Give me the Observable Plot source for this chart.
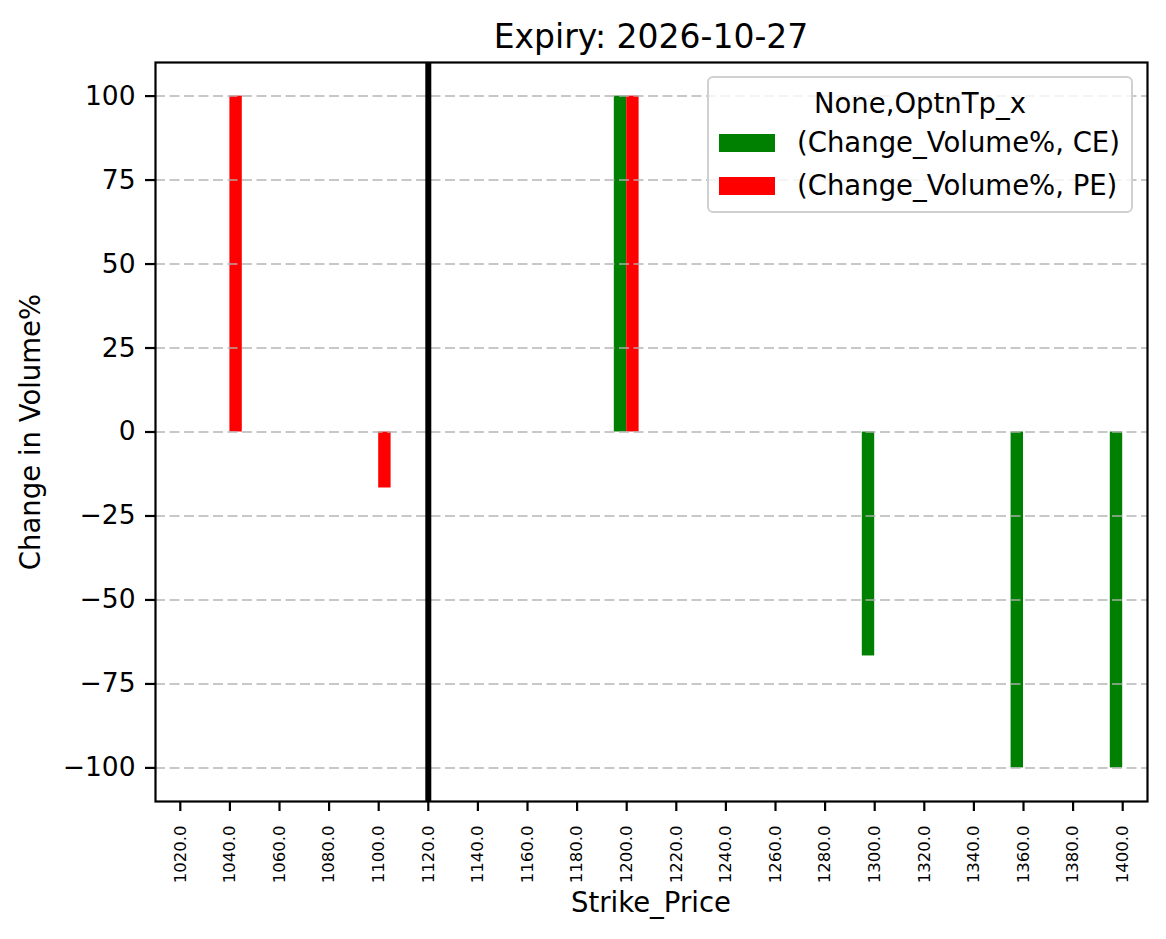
<!DOCTYPE html>
<html><head><meta charset="utf-8">
<script src="https://cdn.jsdelivr.net/npm/d3@7"></script>
<script src="https://cdn.jsdelivr.net/npm/@observablehq/plot@0.6"></script>
<style>
body{margin:0;background:#fff;font-family:"DejaVu Sans",sans-serif;color:#000;}
#wrap{position:relative;width:1166px;height:939px;}
.lbl{position:absolute;white-space:nowrap;line-height:1;}
#legend{position:absolute;left:707px;top:76px;width:422px;height:133px;border:2px solid #d0d0d0;border-radius:6px;background:rgba(255,255,255,0.8);}
.sw{position:absolute;left:10px;width:56px;height:18px;}
.lt{position:absolute;left:88px;font-size:27.5px;line-height:1;white-space:nowrap;}
</style></head><body><div id="wrap"></div>
<script>
const strikes = ["1020.0","1040.0","1060.0","1080.0","1100.0","1120.0","1140.0","1160.0","1180.0","1200.0",
                 "1220.0","1240.0","1260.0","1280.0","1300.0","1320.0","1340.0","1360.0","1380.0","1400.0"];
const ceValues = [null,null,null,null,null,null,null,null,null,100,
                  null,null,null,null,-66.67,null,null,-100,null,-100];
const peValues = [null,100,null,null,-16.67,null,null,null,null,100,
                  null,null,null,null,null,null,null,null,null,null];
const spotStrike = "1120.0";
const yTicks = [-100,-75,-50,-25,0,25,50,75,100];
const yDomain = [-110,110];
const titleText = "Expiry: 2026-10-27";
const xLabel = "Strike_Price";
const yLabel = "Change in Volume%";
const legendTitle = "None,OptnTp_x";
const seriesNames = ["(Change_Volume%, CE)","(Change_Volume%, PE)"];
const seriesColors = ["green","red"];

const ceData = strikes.map((s,i)=>({strike:s,value:ceValues[i]})).filter(d=>d.value!=null);
const peData = strikes.map((s,i)=>({strike:s,value:peValues[i]})).filter(d=>d.value!=null);

const W=1166,H=939,mL=155,mR=19,mT=62,mB=138;
const bw=(W-mL-mR)/strikes.length;
const fmt = d => d<0 ? "\u2212"+Math.abs(d) : String(d);

const chart = Plot.plot({
  width:W,height:H,marginLeft:mL,marginRight:mR,marginTop:mT,marginBottom:mB,
  style:{fontFamily:"DejaVu Sans",background:"white",color:"black"},
  x:{type:"band",domain:strikes,padding:0,round:false,label:null},
  y:{domain:yDomain,label:null},
  marks:[
    Plot.barY(ceData,{x:"strike",y1:0,y2:"value",fill:seriesColors[0],insetLeft:bw*0.25,insetRight:bw*0.5}),
    Plot.barY(peData,{x:"strike",y1:0,y2:"value",fill:seriesColors[1],insetLeft:bw*0.5,insetRight:bw*0.25}),
    Plot.gridY(yTicks,{stroke:"#b0b0b0",strokeOpacity:0.7,strokeWidth:2,strokeDasharray:"10,4.5"}),
    Plot.ruleX([spotStrike],{stroke:"black",strokeWidth:6}),
    Plot.frame({stroke:"black",strokeWidth:2.2}),
    Plot.axisY(yTicks,{tickSize:10,tickPadding:10,fontSize:26.5,strokeWidth:2.2,tickFormat:fmt,label:null}),
    Plot.axisX({tickSize:10,tickPadding:14,tickRotate:-90,fontSize:16.5,strokeWidth:2.2,label:null})
  ]
});
const wrap=document.getElementById("wrap");
wrap.appendChild(chart);

function addLabel(text,x,y,size,rot){
  const d=document.createElement("div");
  d.className="lbl";d.textContent=text;
  d.style.left=x+"px";d.style.top=y+"px";d.style.fontSize=size+"px";
  d.style.transform="translate(-50%,-50%)"+(rot?" rotate(-90deg)":"");
  wrap.appendChild(d);
}
addLabel(titleText,651,36,33,false);
addLabel(xLabel,651,903,27.5,false);
addLabel(yLabel,31,432,27.5,true);

const lg=document.createElement("div");lg.id="legend";
const lt=document.createElement("div");lt.className="lt";lt.textContent=legendTitle;
lt.style.left="0";lt.style.width="100%";lt.style.textAlign="center";lt.style.top="12px";
lg.appendChild(lt);
seriesNames.forEach((n,i)=>{
  const sw=document.createElement("div");sw.className="sw";sw.style.background=seriesColors[i];
  sw.style.top=(56+i*43)+"px";lg.appendChild(sw);
  const t=document.createElement("div");t.className="lt";t.textContent=n;t.style.top=(51+i*43)+"px";
  lg.appendChild(t);
});
wrap.appendChild(lg);
</script></body></html>
